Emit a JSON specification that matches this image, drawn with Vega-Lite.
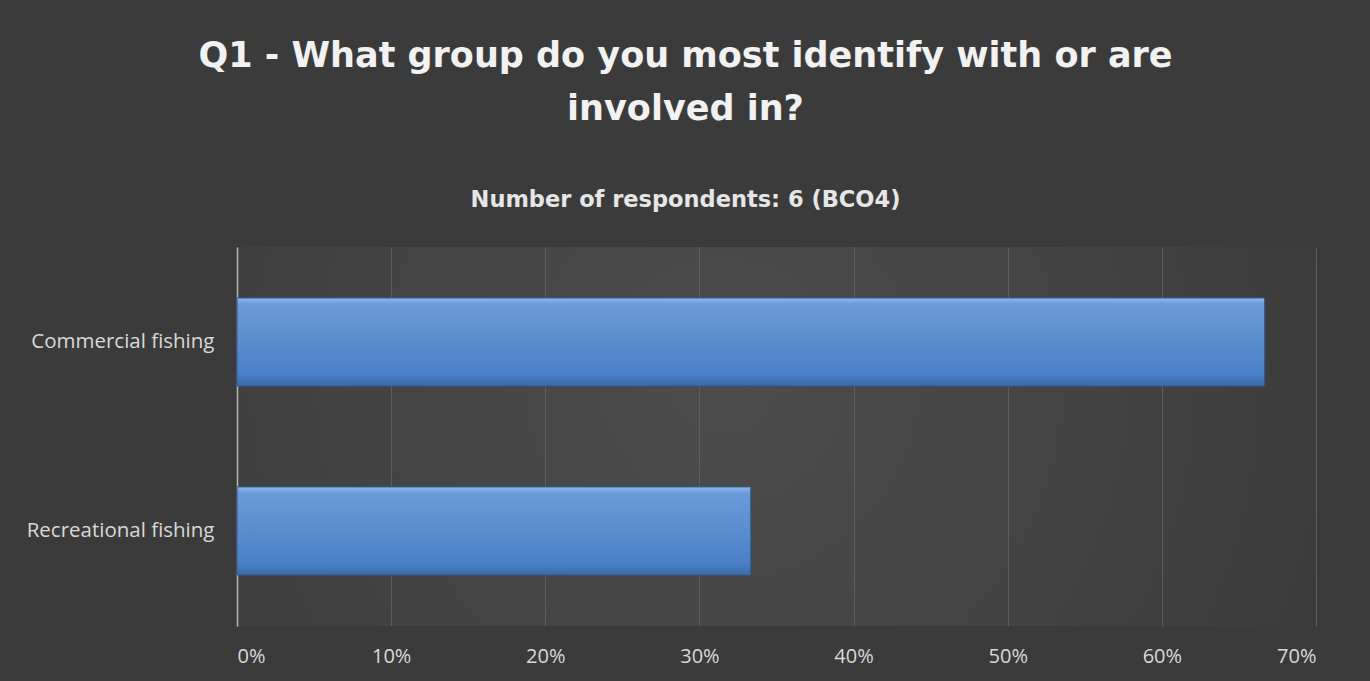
{
  "$schema": "https://vega.github.io/schema/vega-lite/v6.json",
  "width": 1079,
  "height": 379,
  "autosize": {"type": "none"},
  "padding": {"left": 237, "top": 247, "right": 54, "bottom": 55},
  "background": "#3b3b3b",
  "title": {
    "text": ["Q1 - What group do you most identify with or are", "involved in?"],
    "subtitle": "Number of respondents: 6 (BCO4)",
    "font": "DejaVu Sans",
    "fontSize": 35,
    "fontWeight": "bold",
    "color": "#f2f2f2",
    "lineHeight": 53,
    "subtitleFont": "DejaVu Sans",
    "subtitleFontSize": 22.5,
    "subtitleFontWeight": "bold",
    "subtitleColor": "#e6e6e6",
    "subtitlePadding": 62,
    "anchor": "middle",
    "frame": "group",
    "dx": -91,
    "offset": 36
  },
  "data": {
    "values": [
      {"group": "Commercial fishing", "share": 0.6667},
      {"group": "Recreational fishing", "share": 0.3333}
    ]
  },
  "mark": {
    "type": "bar",
    "stroke": "#2f5a8f",
    "strokeWidth": 1,
    "color": {
      "gradient": "linear",
      "x1": 0, "y1": 0, "x2": 0, "y2": 1,
      "stops": [
        {"offset": 0, "color": "#8fbbf0"},
        {"offset": 0.07, "color": "#6b9ad6"},
        {"offset": 0.85, "color": "#4a82c8"},
        {"offset": 1, "color": "#3b6aa6"}
      ]
    }
  },
  "encoding": {
    "y": {
      "field": "group",
      "type": "nominal",
      "sort": null,
      "scale": {"paddingInner": 0.534, "paddingOuter": 0.27},
      "axis": {
        "title": null,
        "ticks": false,
        "domain": true,
        "domainColor": "#b3b3b3",
        "domainWidth": 1.5,
        "labelFont": "Open Sans",
        "labelFontSize": 20.5,
        "labelLimit": 300,
        "labelColor": "#d9d9d9",
        "labelPadding": 23,
        "grid": false
      }
    },
    "x": {
      "field": "share",
      "type": "quantitative",
      "scale": {"domain": [0, 0.7], "nice": false},
      "axis": {
        "title": null,
        "values": [0, 0.1, 0.2, 0.3, 0.4, 0.5, 0.6, 0.7],
        "format": ".0%",
        "ticks": false,
        "domain": false,
        "grid": true,
        "gridColor": "#5e5e5e",
        "gridWidth": 1,
        "labelFont": "Open Sans",
        "labelFontSize": 20,
        "labelColor": "#d9d9d9",
        "labelPadding": 20
      }
    }
  },
  "config": {
    "view": {
      "stroke": null,
      "fill": {
        "gradient": "radial",
        "x1": 0.45, "y1": 0.45, "r1": 0,
        "x2": 0.45, "y2": 0.45, "r2": 0.62,
        "stops": [
          {"offset": 0, "color": "#4c4c4c"},
          {"offset": 0.55, "color": "#434343"},
          {"offset": 1, "color": "#3b3b3b"}
        ]
      }
    }
  }
}
